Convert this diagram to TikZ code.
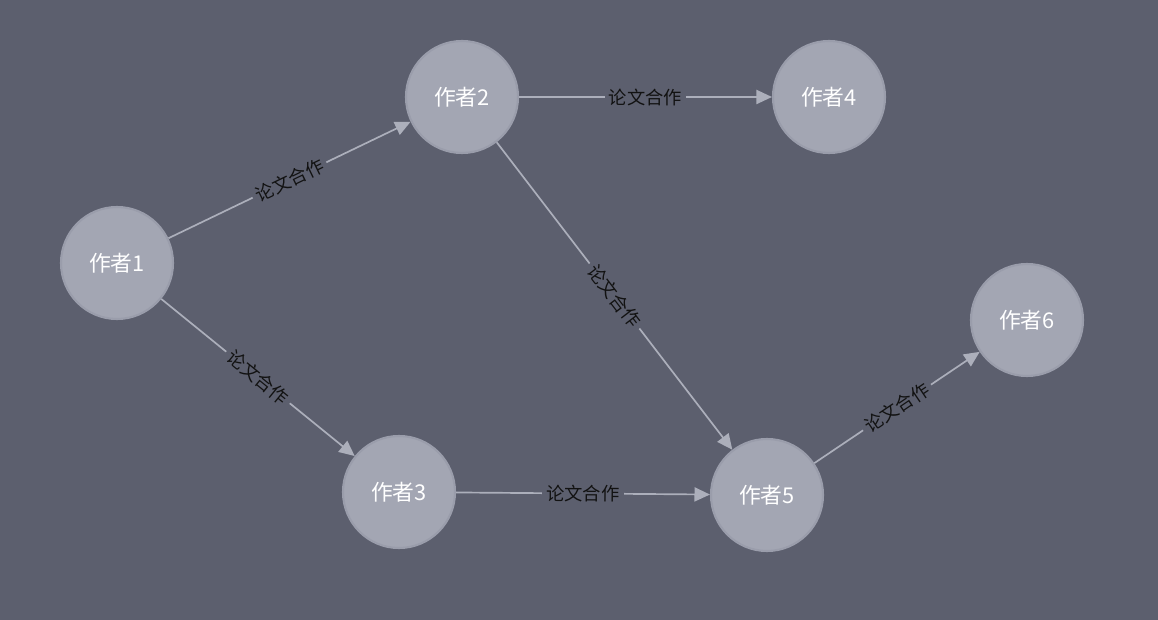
\documentclass[tikz,border=0pt]{standalone}
\usepackage{fontspec}
\setmainfont{Noto Sans CJK SC}
\usetikzlibrary{arrows.meta}
\definecolor{bgcol}{HTML}{5C5F6E}
\definecolor{nodecol}{HTML}{A3A6B3}
\definecolor{rimcol}{HTML}{9A9DAB}
\definecolor{edgecol}{HTML}{ACAFBB}
\definecolor{labelcol}{HTML}{121212}

\begin{document}
\begin{tikzpicture}[
      author/.style={circle, draw=rimcol, line width=1.5pt, fill=nodecol, minimum size=2.8cm, inner sep=0pt, text=white, font=\fontsize{15.5}{18}\selectfont},
      coop/.style={-{Triangle[length=11pt, width=10pt]}, draw=edgecol, line width=1.2pt},
      coopname/.style={sloped, fill=bgcol, inner sep=3pt, text=labelcol, font=\fontsize{13}{15}\selectfont}
    ]
    \fill[bgcol] (0,0) rectangle (28.95,15.5);
    \useasboundingbox (0,0) rectangle (28.95,15.5);

    \node[author] (a1) at (2.925,8.925) {作者1};
    \node[author] (a2) at (11.55,13.075) {作者2};
    \node[author] (a3) at (9.975,3.2) {作者3};
    \node[author] (a4) at (20.725,13.075) {作者4};
    \node[author] (a5) at (19.175,3.125) {作者5};
    \node[author] (a6) at (25.675,7.5) {作者6};

    \draw[coop] (a1) -- node[coopname]{论文合作} (a2);
    \draw[coop] (a1) -- node[coopname]{论文合作} (a3);
    \draw[coop] (a2) -- node[coopname]{论文合作} (a4);
    \draw[coop] (a2) -- node[coopname]{论文合作} (a5);
    \draw[coop] (a3) -- node[coopname]{论文合作} (a5);
    \draw[coop] (a5) -- node[coopname]{论文合作} (a6);
  \end{tikzpicture}
\end{document}
